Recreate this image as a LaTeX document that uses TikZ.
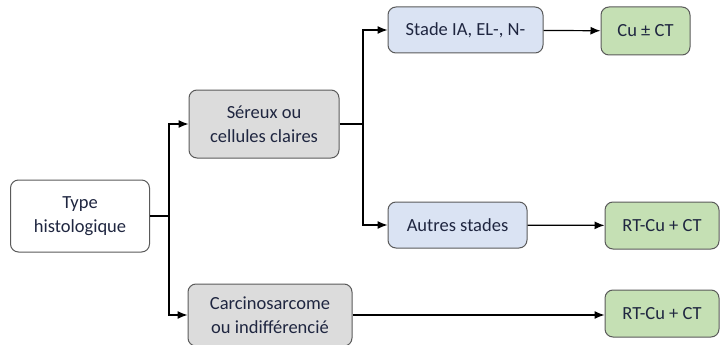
\documentclass[tikz,border=0pt]{standalone}
\usepackage{fontspec}
\setmainfont{Carlito}
\usetikzlibrary{arrows.meta,positioning}

\definecolor{boxgray}{HTML}{DCDCDC}
\definecolor{boxblue}{HTML}{DAE3F3}
\definecolor{boxgreen}{HTML}{C5E0B4}
\definecolor{boxline}{HTML}{5A5A5A}
\definecolor{txt}{HTML}{1F2640}

\begin{document}
\begin{tikzpicture}
    [x=1pt,y=-1pt,
    every box/.style={draw=boxline,line width=1pt,rounded corners=8pt,align=center,
        font=\fontsize{18.5}{24.5}\selectfont,text=txt,inner sep=0pt},
    box/.style={every box,minimum width=#1},
    white box/.style={box=#1,fill=white,minimum height=72pt},
    gray box/.style={box=#1,fill=boxgray},
    blue box/.style={box=#1,fill=boxblue,minimum height=46pt},
    green box/.style={box=#1,fill=boxgreen,minimum height=47pt},
    link/.style={line width=1.2pt,-{Latex[length=10pt,width=8pt]}}]

    \clip (0,0) rectangle (720,345);

    % level 1 and 2
    \node[white box=139pt] (type) at (80,216) {Type\\histologique};
    \node[gray box=150pt,minimum height=68pt] (sereux) at (264,124) {Séreux ou\\cellules claires};
    \node[gray box=164pt,minimum height=62pt] (carcino) at (270,315) {Carcinosarcome\\ou indifférencié};

    % stades
    \node[blue box=155pt] (stade) at (465.5,30) {Stade IA, EL-, N-};
    \node[blue box=139pt] (autres) at (457.5,225) {Autres stades};

    % traitements
    \node[green box=89pt,minimum height=48pt] (cu) at (645.5,31) {Cu ± CT};
    \node[green box=114pt] (rtmid) at (662,225.5) {RT-Cu + CT};
    \node[green box=114pt] (rtbot) at (662,313.5) {RT-Cu + CT};

    \coordinate (split1) at (169,216);
    \coordinate (split2) at (363,124);

    \draw[line width=1.2pt] (type.east) -- (split1);
    \draw[link] (split1) |- (sereux.west);
    \draw[link] (split1) |- (carcino.west);
    \draw[line width=1.2pt] (sereux.east) -- (split2);
    \draw[link] (split2) |- (stade.west);
    \draw[link] (split2) |- (autres.west);
    \draw[link] (stade) -- (cu);
    \draw[link] (autres) -- (rtmid);
    \draw[link] (carcino.east) -- (rtbot.west |- carcino.east);
\end{tikzpicture}
\end{document}
